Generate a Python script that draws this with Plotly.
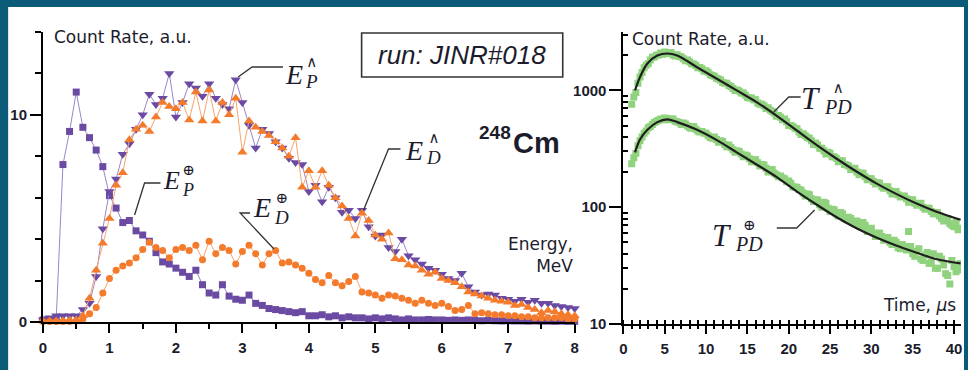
import plotly.graph_objects as go

# ---------------- data: left panel (energy spectra, a.u.) ----------------
energy = [round(0.1 * i, 1) for i in range(81)]  # 0.0 ... 8.0 MeV bins

ep_plus = [0.1, 0.1, 0.2, 7.6, 9.2, 11.1, 9.4, 8.9, 8.3, 7.5,
           6.1, 5.5, 4.8, 4.9, 4.4, 4.2, 3.9, 3.35, 2.9, 2.8,
           2.6, 2.4, 2.2, 2.5, 1.8, 1.4, 1.3, 1.8, 1.25, 1.1,
           1.05, 1.3, 0.9, 0.8, 0.65, 0.6, 0.55, 0.5, 0.45, 0.5,
           0.3, 0.3, 0.35, 0.25, 0.3, 0.2, 0.25, 0.2, 0.2, 0.15,
           0.2, 0.15, 0.2, 0.15, 0.1, 0.15, 0.1, 0.1, 0.12, 0.1,
           0.1, 0.08, 0.1, 0.08, 0.1, 0.08, 0.06, 0.08, 0.06, 0.05,
           0.06, 0.05, 0.05, 0.04, 0.05, 0.04, 0.04, 0.03, 0.04, 0.03,
           0.03]

ep_hat = [0.1, 0.2, 0.3, 0.3, 0.3, 0.3, 0.6, 0.9, 2.2, 4.5,
          6.3, 6.9, 8.1, 8.6, 9.3, 10.0, 11.0, 10.5, 10.8, 12.0,
          9.9, 10.6, 11.5, 11.3, 10.9, 11.5, 10.8, 10.5, 10.3, 11.7,
          10.6, 9.5, 8.4, 9.3, 9.1, 8.7, 8.4, 7.9, 7.7, 7.6,
          6.3, 6.6, 5.8, 6.5, 6.0, 5.3, 5.4, 5.0, 5.4, 4.6,
          4.15, 4.2, 3.6, 3.4, 4.0, 3.2, 3.0, 2.8, 2.6, 2.5,
          2.3, 2.1, 2.0, 2.35, 1.7, 1.45, 1.3, 1.35, 1.3, 1.15,
          1.1, 1.0, 1.1, 0.95, 1.05, 0.9, 0.9, 0.8, 0.75, 0.7,
          0.65]

ed_hat = [0.05, 0.05, 0.05, 0.05, 0.1, 0.1, 0.3, 1.15, 2.5, 3.8,
          5.0, 6.6, 7.2, 8.8, 9.3, 9.5, 9.2, 9.9, 10.6, 10.4,
          10.3, 10.6, 9.75, 11.1, 9.7, 11.2, 9.7, 10.6, 10.0, 10.8,
          8.2, 9.7, 9.4, 9.2, 9.0, 8.7, 8.4, 8.0, 8.9, 6.5,
          7.3, 6.5, 7.3, 6.6, 6.0, 5.6, 5.0, 4.15, 5.25, 4.9,
          4.2, 4.0, 4.3, 3.05, 3.0, 2.75, 2.7, 2.5, 2.3, 2.4,
          2.1, 2.0, 1.9, 1.7, 1.45, 1.35, 1.25, 1.15, 1.05, 1.0,
          0.95, 0.8, 0.85, 0.7, 0.6, 0.45, 0.55, 0.5, 0.4, 0.35,
          0.3]

ed_plus = [0.02, 0.02, 0.02, 0.03, 0.03, 0.05, 0.15, 0.4, 0.7, 1.4,
           2.1, 2.5, 2.7, 2.85, 3.1, 3.5, 3.85, 3.6, 3.45, 3.1,
           3.5, 3.6, 3.45, 3.7, 3.0, 3.9, 3.3, 3.6, 3.45, 2.8,
           3.4, 3.7, 3.3, 2.75, 3.3, 3.45, 2.85, 2.9, 2.75, 2.6,
           2.35, 2.05, 1.9, 2.25, 1.9, 1.75, 1.95, 2.2, 1.45, 1.4,
           1.3, 1.15, 1.3, 1.25, 1.15, 1.05, 0.9, 1.05, 0.9, 0.8,
           0.9, 0.75, 0.55, 0.6, 0.8, 0.4, 0.45, 0.4, 0.35, 0.35,
           0.3, 0.3, 0.25, 0.25, 0.2, 0.2, 0.2, 0.2, 0.2, 0.15,
           0.15]

# ---------------- data: right panel (time distributions) ----------------
time_a = [1.0 + 0.5 * i for i in range(80)]   # 1.00 ... 40.50 us bins
time_b = [1.25 + 0.5 * i for i in range(80)]  # 1.25 ... 40.75 us bins

t_hat_a = [760, 960, 1300, 1560, 1700, 1920, 2000, 2090, 2130, 2080,
           2010, 2020, 1930, 1790, 1760, 1680, 1560, 1530, 1470, 1360,
           1320, 1250, 1170, 1150, 1080, 1000, 990, 950, 870, 860,
           830, 760, 740, 710, 660, 600, 590, 570, 500, 490,
           470, 420, 410, 390, 345, 340, 320, 285, 290, 270,
           245, 250, 230, 210, 215, 190, 195, 172, 175, 158,
           160, 145, 150, 130, 136, 122, 125, 110, 116, 104,
           108, 96, 98, 88, 90, 80, 78, 72, 68, 64]
t_hat_b = [880, 1150, 1420, 1640, 1820, 1930, 2010, 2040, 2070, 2110,
           1970, 1950, 1870, 1820, 1690, 1630, 1570, 1460, 1430, 1340,
           1270, 1230, 1150, 1100, 1040, 1010, 950, 910, 860, 830,
           780, 760, 700, 680, 640, 610, 560, 540, 500, 475,
           440, 425, 395, 370, 355, 320, 305, 295, 270, 262,
           250, 232, 225, 212, 200, 196, 182, 176, 166, 162,
           150, 148, 138, 135, 128, 124, 118, 116, 108, 106,
           100, 98, 92, 88, 84, 76, 80, 70, 74, 66]

t_plus_a = [235, 290, 370, 430, 480, 510, 545, 570, 580, 560,
            570, 540, 510, 515, 480, 490, 450, 445, 430, 395,
            400, 360, 365, 330, 325, 295, 300, 270, 275, 245,
            255, 225, 230, 200, 210, 190, 185, 175, 168, 150,
            148, 140, 125, 128, 112, 115, 100, 108, 92, 95,
            84, 88, 78, 80, 72, 70, 74, 62, 66, 56,
            60, 52, 55, 48, 50, 44, 46, 62, 40, 42,
            36, 39, 33, 40, 30, 36, 27, 22, 31, 29]
t_plus_b = [265, 335, 400, 450, 490, 530, 555, 560, 575, 570,
            545, 530, 525, 495, 475, 465, 440, 430, 410, 390,
            380, 370, 345, 340, 310, 305, 285, 280, 260, 255,
            240, 232, 215, 210, 195, 182, 178, 165, 160, 148,
            142, 132, 130, 118, 116, 105, 110, 98, 96, 88,
            90, 80, 82, 74, 76, 68, 70, 64, 60, 58,
            56, 54, 50, 52, 45, 48, 43, 46, 38, 44,
            35, 41, 34, 30, 38, 32, 26, 35, 28, 33]

fit_t = [1.4, 2.0, 2.9, 4.1, 5.3, 6.5, 8.9, 11.3, 13.7, 16.1,
         18.6, 21.0, 23.4, 25.8, 28.2, 30.6, 33.0, 35.4, 37.8, 40.8]
fit_hat = [1000, 1300, 1700, 1990, 2070, 1990, 1580, 1260, 1000, 794,
           603, 452, 340, 260, 202, 160, 130, 108, 92, 78]
fit_plus = [295, 380, 460, 535, 565, 535, 460, 375, 295, 232,
            180, 136, 105, 82, 66, 55, 47, 41, 36, 33]

left_ytickvals = [0, 10]
left_yminor = [2, 4, 6, 8, 12, 14]
right_ytickvals = [10, 100, 1000]
right_yminor = [20, 30, 40, 50, 60, 70, 80, 90, 200, 300, 400, 500, 600, 700,
                800, 900, 2000, 3000]

# ---------------- style ----------------
TEAL = "#0a5a78"
PURPLE = "#6a4aa2"
PURPLE_L = "#9a86c9"
ORANGE = "#f47a2c"
ORANGE_L = "#f7a46c"
GREEN = "#90d27e"
INK = "#1c1c2c"

W, H = 968, 370
ML, MR, MT, MB = 43, 3, 32, 46
PW = W - ML - MR
PH = H - MT - MB


def px(x, y):
    return (x - ML) / PW, (H - MB - y) / PH


fig = go.Figure()

fig.add_trace(go.Scatter(x=energy, y=ep_plus, mode="lines+markers", xaxis="x", yaxis="y",
                         marker=dict(symbol="square", size=7, color=PURPLE),
                         line=dict(color=PURPLE_L, width=1), cliponaxis=False))
fig.add_trace(go.Scatter(x=energy, y=ep_hat, mode="lines+markers", xaxis="x", yaxis="y",
                         marker=dict(symbol="triangle-down", size=9, color=PURPLE),
                         line=dict(color=PURPLE_L, width=1), cliponaxis=False))
fig.add_trace(go.Scatter(x=energy, y=ed_plus, mode="lines+markers", xaxis="x", yaxis="y",
                         marker=dict(symbol="circle", size=7, color=ORANGE),
                         line=dict(color=ORANGE_L, width=1), cliponaxis=False))
fig.add_trace(go.Scatter(x=energy, y=ed_hat, mode="lines+markers", xaxis="x", yaxis="y",
                         marker=dict(symbol="triangle-up", size=9, color=ORANGE),
                         line=dict(color=ORANGE_L, width=1), cliponaxis=False))

for tx, ty in [(time_a, t_hat_a), (time_b, t_hat_b), (time_a, t_plus_a), (time_b, t_plus_b)]:
    fig.add_trace(go.Scatter(x=tx, y=ty, mode="markers", xaxis="x2", yaxis="y2",
                             marker=dict(symbol="square", size=7, color=GREEN)))
for fy in [fit_hat, fit_plus]:
    fig.add_trace(go.Scatter(x=fit_t, y=fy, mode="lines", xaxis="x3", yaxis="y2",
                             line=dict(color="#1e1e1e", width=2.2, shape="spline")))

tickfont = dict(family="Liberation Sans", size=15, color=INK, weight="bold")
axis_common = dict(showline=True, linecolor="black", linewidth=2, showgrid=False,
                   zeroline=False, tickcolor="black", tickwidth=2, tickfont=tickfont)

x2_range = [0, 40.85]

fig.update_layout(
    width=W, height=H,
    margin=dict(l=ML, r=MR, t=MT, b=MB),
    paper_bgcolor=TEAL, plot_bgcolor="white",
    showlegend=False,
    xaxis=dict(domain=[0, 534 / PW], range=[0, 8], anchor="y", ticks="outside", ticklen=9,
               dtick=1, tick0=0, ticklabelstandoff=2,
               minor=dict(dtick=0.5, ticks="outside", ticklen=5, tickwidth=2, tickcolor="black"),
               **axis_common),
    yaxis=dict(domain=[2 / PH, 1], range=[0, 14], anchor="x", ticks="outside", ticklen=11,
               tickmode="array", tickvals=left_ytickvals, ticklabelstandoff=0,
               minor=dict(tickmode="array", tickvals=left_yminor, ticks="outside", ticklen=6,
                          tickwidth=2, tickcolor="black"),
               **axis_common),
    xaxis2=dict(domain=[583 / PW, 1], range=x2_range, anchor="y2", ticks="outside", ticklen=8,
                dtick=5, tick0=0, ticklabelstandoff=2,
                minor=dict(dtick=1, ticks="inside", ticklen=4, tickwidth=1.5, tickcolor="black"),
                **axis_common),
    xaxis3=dict(overlaying="x2", range=x2_range, anchor="y2", ticks="outside", ticklen=4,
                tickwidth=1.5, tickcolor="black", dtick=1, tick0=0, showticklabels=False,
                showline=False, showgrid=False, zeroline=False),
    yaxis2=dict(domain=[0, 1], type="log", range=[1, 3.5], anchor="x2", ticks="outside",
                ticklen=12, tickmode="array", tickvals=right_ytickvals,
                ticktext=[str(v) for v in right_ytickvals], ticklabelstandoff=0,
                minor=dict(tickmode="array", tickvals=right_yminor, ticks="inside", ticklen=5,
                           tickwidth=1.5, tickcolor="black"),
                **axis_common),
)

shapes = []
x0, y0 = px(8, 7)
x1, y1 = px(W, H)
shapes.append(dict(type="rect", xref="paper", yref="paper", x0=x0, y0=y1, x1=x1, y1=y0,
                   fillcolor="white", line=dict(width=0), layer="below"))
bx0, by0 = px(363, 33)
bx1, by1 = px(565, 77)
shapes.append(dict(type="rect", xref="paper", yref="paper", x0=bx0, y0=by1, x1=bx1, y1=by0,
                   line=dict(color="#333333", width=1.6), fillcolor="rgba(0,0,0,0)"))

connectors = [
    [(239, 77), (253, 67), (284, 67)],
    [(365, 210), (390, 149), (402, 149)],
    [(135, 215), (145, 183), (161, 183)],
    [(275, 249), (241, 213), (251, 213)],
    [(777, 112), (792, 97), (804, 97)],
    [(818, 210), (800, 228), (780, 228)],
]
for pts in connectors:
    p = [px(a, b) for a, b in pts]
    path = "M %f,%f " % p[0] + " ".join("L %f,%f" % q for q in p[1:])
    shapes.append(dict(type="path", xref="paper", yref="paper", path=path,
                       line=dict(color="#333333", width=1.3)))
fig.update_layout(shapes=shapes)

ann = []


def text(x, y, s, size, family="DejaVu Sans", xanchor="left", color=INK, weight="normal",
         align="left"):
    ax, ay = px(x, y)
    ann.append(dict(xref="paper", yref="paper", x=ax, y=ay, text=s, showarrow=False,
                    xanchor=xanchor, yanchor="middle", align=align, borderpad=0,
                    font=dict(family=family, size=size, color=color, weight=weight)))


SERIF = "Liberation Serif"


def label(base, sym, sub, bx, by, bsize, sx, sy, subsize=19, symsize=15):
    text(bx, by, "<i>%s</i>" % base, bsize, family=SERIF)
    stack = ("<span style='font-family:DejaVu Serif;font-size:%dpx'>%s</span><br>"
             "<span style='font-size:%dpx'><i>%s</i></span>" % (symsize, sym, subsize, sub))
    text(sx, sy, stack, 16, family=SERIF, xanchor="center", align="center")


label("E", "∧", "P", 285, 74, 28, 313, 72)
label("E", "∧", "D", 406, 150, 28, 435, 148)
label("E", "⊕", "P", 163, 181, 26, 189, 181, 18, 15)
label("E", "⊕", "D", 253, 207, 28, 283, 208)
label("T", "∧", "PD", 803, 98, 31, 841, 98, 20)
label("T", "⊕", "PD", 714, 235, 31, 752, 235, 20)

text(53, 37, "Count Rate, a.u.", 17)
text(634, 39, "Count Rate, a.u.", 17)
text(576, 255, "Energy,<br>MeV", 17, xanchor="right", align="right")
text(961, 305, "Time, <i>µ</i>s", 17, xanchor="right")
text(464, 55, "<i>run: JINR#018</i>", 26, family="Liberation Sans", xanchor="center")
text(514, 132, "248", 19, family="Liberation Sans", xanchor="right", weight="bold")
text(514, 143, "Cm", 29, family="Liberation Sans", weight="bold")

fig.update_layout(annotations=ann)

fig.write_html("out.html", config={"displayModeBar": False},
               post_script="document.body.style.margin='0px';document.body.style.padding='0px';")
